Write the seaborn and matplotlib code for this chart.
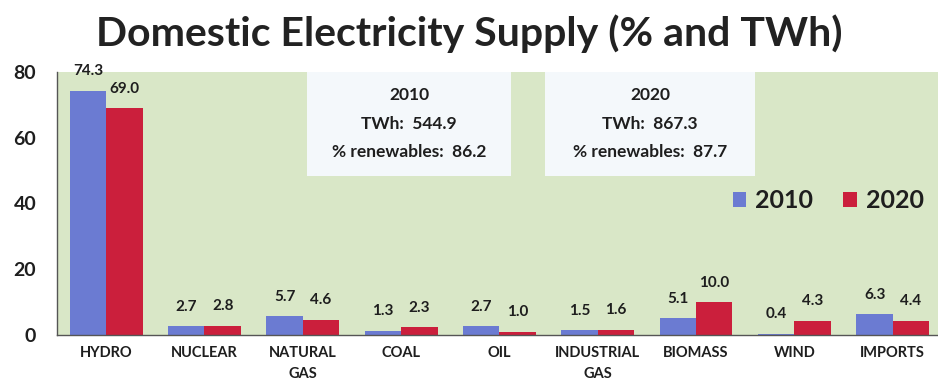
import matplotlib
matplotlib.use("Agg")
import matplotlib.pyplot as plt
from matplotlib.patches import Rectangle
import seaborn as sns
import pandas as pd

# --- data -----------------------------------------------------------------
categories = ["HYDRO", "NUCLEAR", "NATURAL\nGAS", "COAL", "OIL",
              "INDUSTRIAL\nGAS", "BIOMASS", "WIND", "IMPORTS"]
share_2010 = [74.3, 2.7, 5.7, 1.3, 2.7, 1.5, 5.1, 0.4, 6.3]
share_2020 = [69.0, 2.8, 4.6, 2.3, 1.0, 1.6, 10.0, 4.3, 4.4]
years = ["2010", "2020"]
total_twh = [544.9, 867.3]
renewables_pct = [86.2, 87.7]
y_ticks = [0, 20, 40, 60, 80]

# --- styling --------------------------------------------------------------
BLUE = "#6b7bd2"
RED = "#cb1f3c"
GREEN_BG = "#d9e7c7"
BOX_BG = "#f4f8fb"
INK = "#1e1e1e"

sns.set_theme(style="white")
plt.rcParams["font.family"] = ["Lato", "DejaVu Sans"]

df = pd.DataFrame({
    "source": categories * 2,
    "share": share_2010 + share_2020,
    "year": [years[0]] * len(categories) + [years[1]] * len(categories),
})

fig = plt.figure(figsize=(9.38, 3.85), dpi=100)
fig.patch.set_facecolor("white")
ax = fig.add_axes([57 / 938, 50 / 385, 881 / 938, 263 / 385])
ax.set_facecolor(GREEN_BG)

sns.barplot(data=df, x="source", y="share", hue="year",
            palette=[BLUE, RED], width=0.74, saturation=1,
            edgecolor="none", ax=ax)

for cont in ax.containers:
    ax.bar_label(cont, fmt="%.1f", padding=9, fontsize=11,
                 fontweight="bold", color=INK, clip_on=False)

ax.set_xlim(-0.5, 8.46)
ax.set_ylim(0, 80)
ax.set_yticks(y_ticks)
ax.set_xlabel("")
ax.set_ylabel("")

# axes frame: only left and bottom spines
for side in ("top", "right"):
    ax.spines[side].set_visible(False)
for side in ("left", "bottom"):
    ax.spines[side].set_color("#555555")
    ax.spines[side].set_linewidth(1.0)

ax.tick_params(axis="y", direction="out", length=5, width=1, color="#555555",
               pad=10, labelsize=14, labelcolor=INK)
for lbl in ax.get_yticklabels():
    lbl.set_fontweight("bold")

ax.tick_params(axis="x", which="major", length=0, pad=8,
               labelsize=10.5, labelcolor=INK)
ax.set_xticks([i + 0.5 for i in range(len(categories) - 1)], minor=True)
ax.tick_params(axis="x", which="minor", direction="out", length=4,
               width=1, color="#555555")
for lbl in ax.get_xticklabels():
    lbl.set_fontweight("bold")
    lbl.set_linespacing(1.65)
    lbl.set_verticalalignment("top")

# summary boxes for each year
box_spans = [(2.04, 4.12), (4.46, 6.60)]
for (x0, x1), yr, twh, ren in zip(box_spans, years, total_twh, renewables_pct):
    ax.add_patch(Rectangle((x0, 48.5), x1 - x0, 31.5, facecolor=BOX_BG,
                           edgecolor="none", zorder=3))
    ax.text((x0 + x1) / 2, 64.3,
            f"{yr}\nTWh:  {twh:.1f}\n% renewables:  {ren:.1f}",
            ha="center", va="center", fontsize=12.5, fontweight="bold",
            color=INK, linespacing=1.95, zorder=4)

leg = ax.legend(loc="center right", bbox_to_anchor=(0.995, 0.51),
                ncol=2, frameon=False, fontsize=18,
                handlelength=0.55, handleheight=0.55, handletextpad=0.35,
                columnspacing=1.2, borderaxespad=0)
for t in leg.get_texts():
    t.set_fontweight("bold")
    t.set_color(INK)

fig.text(0.5, 0.912, "Domestic Electricity Supply (% and TWh)",
         ha="center", va="center", fontsize=29.5, fontweight="bold",
         color="#222222")

fig.savefig("out.png", dpi=100, facecolor="white")
